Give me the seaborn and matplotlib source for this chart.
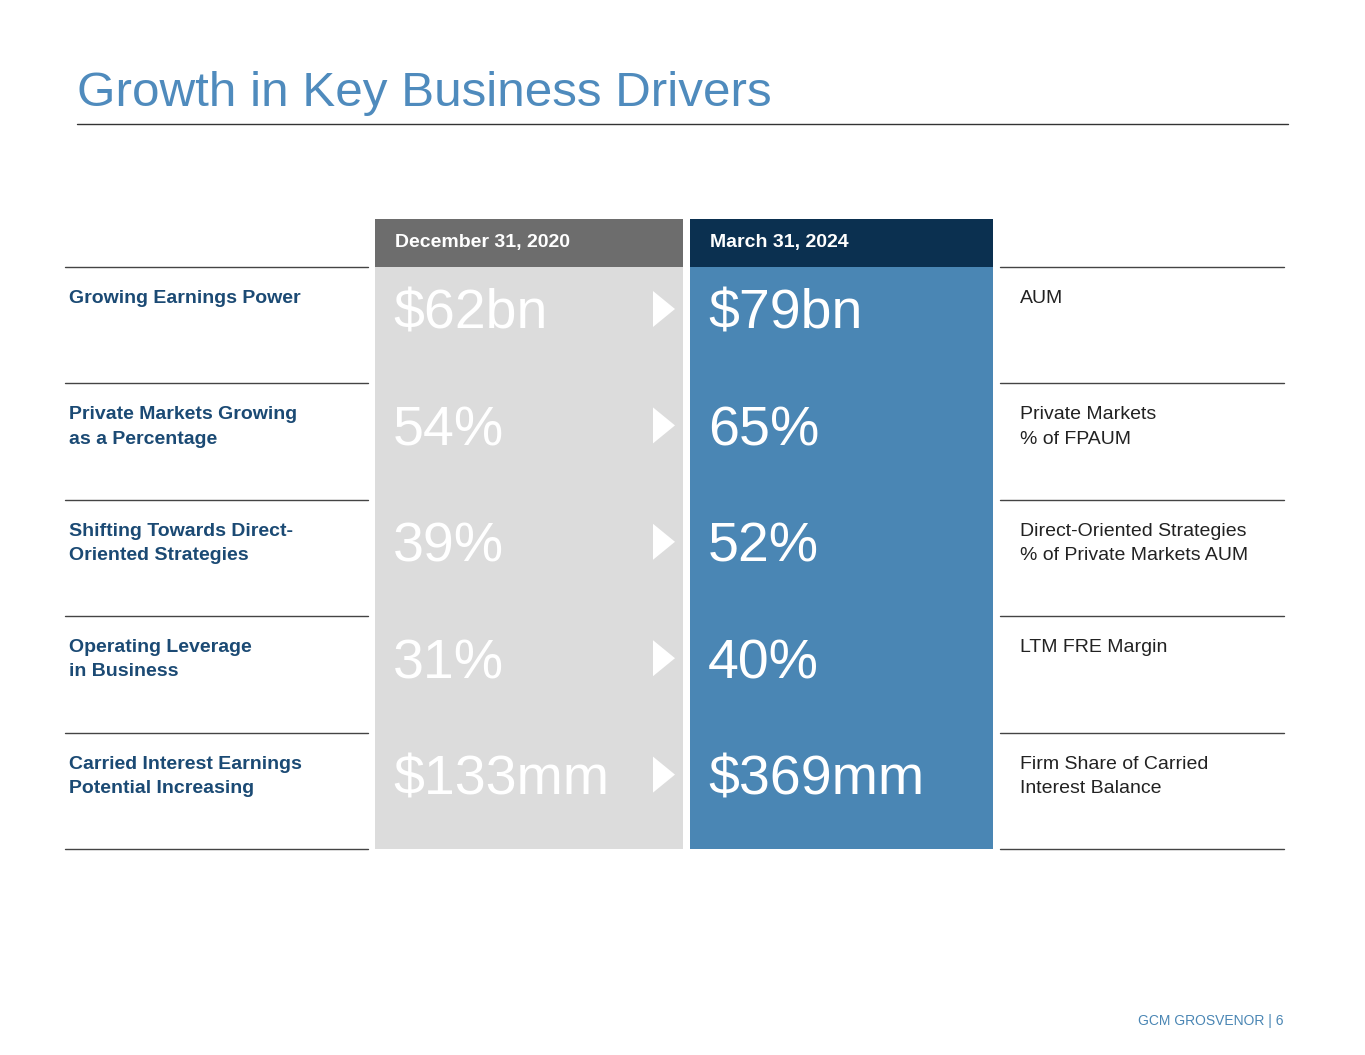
import matplotlib
matplotlib.use("Agg")
import matplotlib.pyplot as plt
import seaborn as sns
from matplotlib.patches import Rectangle

# data
drivers = ["Growing Earnings Power", "Private Markets Growing\nas a Percentage",
           "Shifting Towards Direct-\nOriented Strategies", "Operating Leverage\nin Business",
           "Carried Interest Earnings\nPotential Increasing"]
values_2020 = ["$62bn", "54%", "39%", "31%", "$133mm"]
values_2024 = ["$79bn", "65%", "52%", "40%", "$369mm"]
metrics = ["AUM", "Private Markets\n% of FPAUM", "Direct-Oriented Strategies\n% of Private Markets AUM",
           "LTM FRE Margin", "Firm Share of Carried\nInterest Balance"]
col_headers = ["December 31, 2020", "March 31, 2024"]

sns.set_theme(style="white")
plt.rcParams['font.family'] = ['Liberation Sans', 'DejaVu Sans']

fig = plt.figure(figsize=(13.65, 10.55), dpi=100)
ax = fig.add_axes([0, 0, 1, 1])
ax.set_xlim(0, 1365)
ax.set_ylim(1055, 0)
ax.axis("off")

blue = "#4a86b4"
navy = "#0b3050"
label_col = "#1b4a74"

ax.text(77, 93, "Growth in Key Business Drivers", fontsize=35.6, color="#4f8bbd", va="center")
ax.plot([77, 1288], [124, 124], color="#333333", lw=1)

top, row_h = 267, 116.4
n = len(drivers)
bottom = top + row_h * n

for (x0, x1, body, head, hdr) in [(375, 683, "#dcdcdc", "#6d6d6d", col_headers[0]),
                                  (690, 993, blue, navy, col_headers[1])]:
    ax.add_patch(Rectangle((x0, top), x1 - x0, bottom - top, color=body, lw=0))
    ax.add_patch(Rectangle((x0, 219), x1 - x0, top - 219, color=head, lw=0))
    ax.text(x0 + 20, 243, hdr, color="white", fontsize=14, fontweight="bold", va="center")

for i in range(n + 1):
    y = top + row_h * i
    ax.plot([65, 368], [y, y], color="#444444", lw=1)
    ax.plot([1000, 1284], [y, y], color="#444444", lw=1)

for i in range(n):
    y = top + row_h * i
    ax.text(69, y + 23, drivers[i], color=label_col, fontsize=14, fontweight="bold",
            va="top", linespacing=1.55)
    ax.text(1020, y + 23, metrics[i], color="#222222", fontsize=14, va="top", linespacing=1.55)
    ax.text(393, y + 48, values_2020[i], color="white", fontsize=40, va="center")
    ax.text(708, y + 48, values_2024[i], color="white", fontsize=40, va="center")
    ax.fill([653, 653, 675], [y + 24, y + 60, y + 42], color="white", lw=0)

ax.text(1284, 1021, "GCM GROSVENOR | 6", color=blue, fontsize=10, ha="right", va="center")

fig.savefig("out.png", dpi=100)
